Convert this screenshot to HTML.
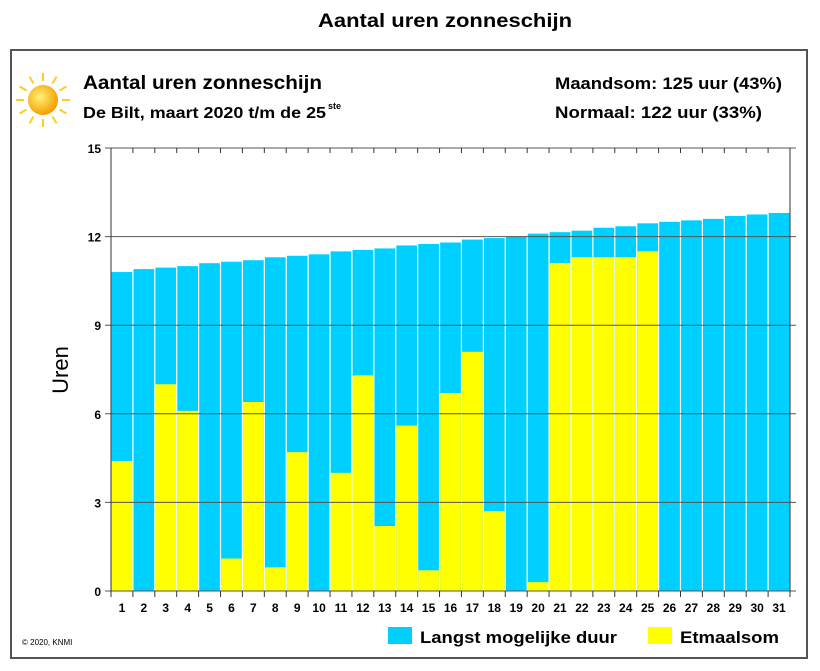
<!DOCTYPE html>
<html><head><meta charset="utf-8"><style>
body{margin:0;background:#fff;width:820px;height:666px;overflow:hidden;font-family:"Liberation Sans",Arial,sans-serif}
</style></head><body>
<svg width="820" height="666" xmlns="http://www.w3.org/2000/svg">
<text x="318" y="27" font-size="19" font-weight="bold" textLength="254" lengthAdjust="spacingAndGlyphs">Aantal uren zonneschijn</text>
<rect x="11" y="50" width="796" height="608" fill="#fff" stroke="#555" stroke-width="2"/>
<g id="sun"></g>
<text x="83" y="89" font-size="19" font-weight="bold" textLength="239" lengthAdjust="spacingAndGlyphs">Aantal uren zonneschijn</text>
<text x="83" y="118" font-size="16" font-weight="bold" textLength="243" lengthAdjust="spacingAndGlyphs">De Bilt, maart 2020 t/m de 25</text>
<text x="328" y="109" font-size="9" font-weight="bold">ste</text>
<text x="555" y="89" font-size="17" font-weight="bold" textLength="227" lengthAdjust="spacingAndGlyphs">Maandsom: 125 uur (43%)</text>
<text x="555" y="118" font-size="17" font-weight="bold" textLength="207" lengthAdjust="spacingAndGlyphs">Normaal: 122 uur (33%)</text>
<g id="plot"></g>
<text x="68" y="370" font-size="22" transform="rotate(-90 68 370)" text-anchor="middle">Uren</text>
<text x="22" y="645" font-size="8">© 2020, KNMI</text>
<rect x="388" y="627" width="24" height="17" fill="#00d0ff"/>
<text x="420" y="643" font-size="17" font-weight="bold" textLength="197" lengthAdjust="spacingAndGlyphs">Langst mogelijke duur</text>
<rect x="648" y="627" width="24" height="17" fill="#ffff00"/>
<text x="680" y="643" font-size="17" font-weight="bold" textLength="99" lengthAdjust="spacingAndGlyphs">Etmaalsom</text>
</svg>
<script>
const days=[1,2,3,4,5,6,7,8,9,10,11,12,13,14,15,16,17,18,19,20,21,22,23,24,25,26,27,28,29,30,31];
const maxDuration=[10.8,10.9,10.95,11.0,11.1,11.15,11.2,11.3,11.35,11.4,11.5,11.55,11.6,11.7,11.75,11.8,11.9,11.95,12.0,12.1,12.15,12.2,12.3,12.35,12.45,12.5,12.55,12.6,12.7,12.75,12.8];
const sunshine=[4.4,0,7.0,6.1,0,1.1,6.4,0.8,4.7,0,4.0,7.3,2.2,5.6,0.7,6.7,8.1,2.7,0,0.3,11.1,11.3,11.3,11.3,11.5,null,null,null,null,null,null];
const yTicks=[0,3,6,9,12,15];
const NS="http://www.w3.org/2000/svg";
const L=111,R=790,T=148,B=591,ymax=15;
const bw=(R-L)/days.length;
const y=v=>B-(v/ymax)*(B-T);
const x=i=>L+i*bw;
const g=document.getElementById('plot');
function mk(t,a){const e=document.createElementNS(NS,t);for(const k in a)e.setAttribute(k,a[k]);return e;}
days.forEach((d,i)=>{
  const r=mk('rect',{x:x(i)+0.6,y:y(maxDuration[i]),width:bw-1.2,height:B-y(maxDuration[i]),fill:'#00d0ff'});
  
  
  g.appendChild(r);
  if(sunshine[i]){
    const s=mk('rect',{x:x(i)+0.6,y:y(sunshine[i]),width:bw-1.2,height:B-y(sunshine[i]),fill:'#ffff00'});
    
    
    g.appendChild(s);
  }
  const t=mk('text',{x:x(i)+bw/2,y:612,'text-anchor':'middle','font-size':12,'font-weight':'bold'});
  t.textContent=d;
  
  
  g.appendChild(t);
});
yTicks.forEach(v=>{
  const l=mk('line',{x1:L-6,x2:R+6,y1:y(v),y2:y(v),stroke:'#555','stroke-width':1});
  
  
  g.appendChild(l);
  const t=mk('text',{x:L-10,y:y(v)+5,'text-anchor':'end','font-size':12,'font-weight':'bold'});
  t.textContent=v;
  
  
  g.appendChild(t);
});
for(let i=0;i<=days.length;i++){
  g.appendChild(mk('line',{x1:x(i),x2:x(i),y1:T,y2:T+5,stroke:'#333'}));
  g.appendChild(mk('line',{x1:x(i),x2:x(i),y1:B,y2:B+6,stroke:'#333'}));
}
g.appendChild(mk('line',{x1:L,x2:L,y1:T,y2:B,stroke:'#333'}));
g.appendChild(mk('line',{x1:R,x2:R,y1:T,y2:B,stroke:'#333'}));
const sun=document.getElementById('sun');
const cx=43,cy=100;
for(let k=0;k<12;k++){const a=k*Math.PI/6;
  sun.appendChild(mk('line',{x1:cx+Math.cos(a)*19,y1:cy+Math.sin(a)*19,x2:cx+Math.cos(a)*27,y2:cy+Math.sin(a)*27,stroke:'#ffcc22','stroke-width':2}));}
const grad=mk('radialGradient',{id:'sg',cx:'40%',cy:'40%',r:'60%'});
grad.appendChild(mk('stop',{offset:'0%','stop-color':'#fff27a'}));
grad.appendChild(mk('stop',{offset:'100%','stop-color':'#f5a000'}));
sun.appendChild(grad);
sun.appendChild(mk('circle',{cx:cx,cy:cy,r:15,fill:'url(#sg)'}));
</script>
</body></html>
